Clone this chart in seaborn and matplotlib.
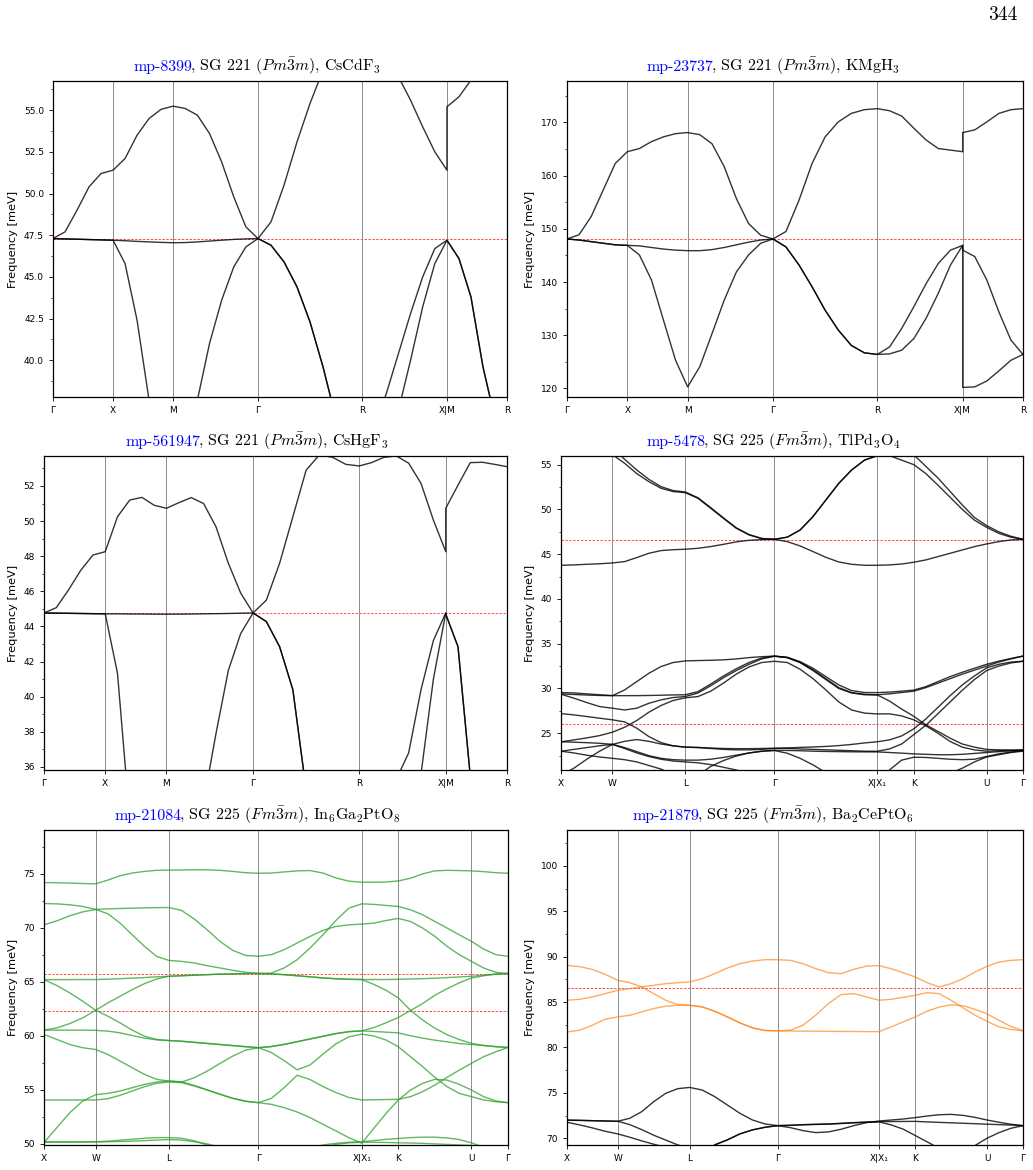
import numpy as np
import pandas as pd
import matplotlib
matplotlib.use("Agg")
import matplotlib.pyplot as plt
from matplotlib.ticker import MultipleLocator, AutoMinorLocator
import seaborn as sns

# k-paths: cumulative distance of the high-symmetry points
sc_ticks = [0.0, 0.5, 1.0, 1.707, 2.573, 3.280, 3.780]
sc_labels = ["Γ", "X", "M", "Γ", "R", "X|M", "R"]
sc_steps = [5, 5, 7, 8, 7, 5]
sc_jumps = [5]          # X|M: path is broken, the M value starts again at the same k

fcc_ticks = [0.0, 0.5, 1.207, 2.073, 3.073, 3.427, 4.134, 4.488]
fcc_labels = ["X", "W", "L", "Γ", "X|X₁", "K", "U", "Γ"]
fcc_steps = [4, 6, 7, 8, 3, 6, 3]
fcc_jumps = []

# ---- mp-8399 CsCdF3 (meV) ----
cscdf3_bands = [
    [47.3, 47.7, 49.0, 50.4, 51.2, 51.4, 52.1, 53.5, 54.5, 55.05, 55.24,
     55.1, 54.7, 53.6, 51.9, 49.8, 48.0, 47.3, 48.3, 50.5, 53.1, 55.4, 57.4, 58.2, 58.6, 58.7,
     58.5, 57.9, 57.0, 55.6, 54.0, 52.5, 51.4, 55.2, 55.8, 56.8, 57.4, 57.7, 57.8],
    [47.3, 47.28, 47.26, 47.24, 47.22, 47.2, 47.17, 47.13, 47.1, 47.07, 47.05,
     47.06, 47.1, 47.15, 47.2, 47.25, 47.28, 47.3, 46.9, 45.9, 44.4, 42.3, 39.6, 36.5, 35.0, 34.5,
     34.8, 35.5, 37.0, 40.0, 43.2, 45.8, 47.2, 47.2, 46.1, 43.8, 39.6, 36.5, 35.0],
    [47.3, 47.28, 47.26, 47.24, 47.22, 47.2, 45.8, 42.4, 37.6, 35.0, 34.0,
     35.0, 37.6, 41.0, 43.6, 45.6, 46.8, 47.3, 46.9, 45.9, 44.4, 42.3, 39.6, 36.5, 35.0, 34.5,
     36.0, 38.0, 40.4, 42.8, 45.0, 46.7, 47.2, 47.2, 46.1, 43.8, 39.6, 36.5, 35.0],
]
cscdf3_ylim = [37.8, 56.75]
cscdf3_ref = [47.3]

# ---- mp-23737 KMgH3 ----
kmgh3_bands = [
    [148.1, 148.9, 152.3, 157.3, 162.3, 164.5, 165.1, 166.4, 167.3, 167.9, 168.1,
     167.7, 166.0, 161.7, 155.7, 151.0, 148.8, 148.1, 149.5, 155.4, 162.3, 167.3, 170.1, 171.7, 172.4, 172.6,
     172.2, 171.2, 168.9, 166.7, 165.1, 164.8, 164.5, 168.1, 168.6, 170.1, 171.7, 172.4, 172.6],
    [148.1, 147.9, 147.6, 147.3, 147.0, 146.9, 146.8, 146.5, 146.2, 146.0, 145.9,
     145.9, 146.1, 146.5, 147.0, 147.5, 147.9, 148.1, 146.6, 143.2, 139.1, 134.7, 131.0, 128.1, 126.7, 126.4,
     127.8, 131.3, 135.4, 139.7, 143.5, 146.0, 146.9, 146.0, 144.8, 140.4, 134.4, 129.1, 126.4],
    [148.1, 147.9, 147.6, 147.3, 147.0, 146.9, 145.1, 140.4, 132.8, 125.3, 120.3,
     124.1, 130.3, 136.6, 141.9, 145.1, 147.3, 148.1, 146.6, 143.2, 139.1, 134.7, 131.0, 128.1, 126.7, 126.4,
     126.5, 127.2, 129.4, 133.2, 137.9, 143.2, 146.9, 120.2, 120.3, 121.4, 123.3, 125.3, 126.4],
]
kmgh3_ylim = [118.4, 177.8]
kmgh3_ref = [148.1]

# ---- mp-561947 CsHgF3 ----
cshgf3_bands = [
    [44.77, 45.07, 46.08, 47.2, 48.07, 48.26, 50.25, 51.2, 51.35, 50.9, 50.73,
     51.05, 51.34, 51.0, 49.68, 47.6, 45.9, 44.77, 45.5, 47.6, 50.25, 52.9, 53.77, 53.63, 53.23, 53.14,
     53.33, 53.63, 53.71, 53.3, 52.15, 50.06, 48.26, 50.73, 52.05, 53.33, 53.35, 53.23, 53.1],
    [44.77, 44.76, 44.75, 44.74, 44.73, 44.72, 44.72, 44.71, 44.71, 44.7, 44.7,
     44.7, 44.71, 44.72, 44.73, 44.74, 44.76, 44.77, 44.28, 42.85, 40.4, 34.7, 33.0, 31.0, 30.0, 30.0,
     30.5, 32.0, 33.5, 35.0, 35.6, 41.0, 44.77, 44.7, 42.85, 35.5, 33.0, 31.0, 30.0],
    [44.77, 44.76, 44.75, 44.74, 44.73, 44.72, 41.33, 33.0, 31.0, 30.0, 29.0,
     29.5, 31.0, 34.0, 37.9, 41.5, 43.6, 44.77, 44.28, 42.85, 40.4, 34.7, 33.0, 31.0, 30.0, 30.0,
     30.0, 32.0, 35.3, 36.8, 40.4, 43.2, 44.77, 44.7, 42.85, 35.5, 33.0, 31.0, 30.0],
]
cshgf3_ylim = [35.83, 53.71]
cshgf3_ref = [44.77]

# ---- mp-5478 TlPd3O4 ----
tlpd3o4_bands = [
    [60.0, 59.0, 58.0, 57.0, 56.1, 55.15, 54.0, 53.1, 52.36, 51.99, 51.87,
     51.24, 50.12, 49.0, 47.9, 47.15, 46.74, 46.66, 46.9, 47.7, 49.2, 51.05, 52.9, 54.4, 55.5, 56.0,
     56.6, 56.8, 56.1, 54.8, 53.5, 52.0, 50.5, 49.1, 48.2, 47.5, 47.0, 46.66],
    [61.0, 60.0, 59.0, 58.0, 56.8, 55.6, 54.4, 53.36, 52.54, 52.1, 51.95,
     51.3, 50.2, 49.05, 47.95, 47.2, 46.76, 46.66, 46.9, 47.7, 49.2, 51.05, 52.9, 54.4, 55.5, 56.0,
     56.0, 55.5, 55.0, 54.0, 52.7, 51.35, 50.0, 48.8, 48.0, 47.33, 46.9, 46.66],
    [43.76, 43.8, 43.87, 43.93, 44.02, 44.17, 44.62, 45.1, 45.4, 45.5, 45.55,
     45.66, 45.85, 46.1, 46.37, 46.55, 46.63, 46.66, 46.4, 45.92, 45.29, 44.65, 44.13, 43.87, 43.76, 43.76,
     43.8, 43.9, 44.1, 44.36, 44.73, 45.1, 45.47, 45.84, 46.14, 46.4, 46.59, 46.66],
    [29.55, 29.5, 29.4, 29.3, 29.2, 29.84, 30.77, 31.7, 32.45, 32.9, 33.08,
     33.12, 33.15, 33.2, 33.3, 33.45, 33.55, 33.62, 33.49, 33.0, 32.26, 31.33, 30.4, 29.77, 29.55, 29.54,
     29.6, 29.7, 29.82, 30.21, 30.77, 31.33, 31.81, 32.26, 32.7, 33.05, 33.35, 33.62],
    [29.4, 29.33, 29.27, 29.22, 29.2, 29.2, 29.2, 29.22, 29.25, 29.28, 29.3,
     29.65, 30.5, 31.4, 32.2, 32.9, 33.4, 33.62, 33.45, 32.9, 32.1, 31.1, 30.1, 29.55, 29.35, 29.3,
     29.4, 29.55, 29.7, 30.1, 30.6, 31.1, 31.6, 32.05, 32.5, 32.95, 33.3, 33.62],
    [29.36, 28.92, 28.43, 27.98, 27.8, 27.6, 27.8, 28.35, 28.73, 28.99, 29.1,
     29.5, 30.3, 31.2, 32.0, 32.7, 33.3, 33.6, 33.45, 32.9, 32.0, 31.0, 30.0, 29.5, 29.3, 29.28,
     28.6, 27.7, 26.9, 25.94, 25.2, 24.45, 23.8, 23.45, 23.2, 23.15, 23.12, 23.1],
    [24.04, 24.26, 24.48, 24.74, 25.12, 25.67, 26.42, 27.35, 28.1, 28.66, 28.96,
     29.1, 29.7, 30.6, 31.6, 32.4, 32.9, 33.04, 32.9, 32.15, 31.1, 29.84, 28.5, 27.6, 27.25, 27.16,
     27.17, 26.94, 26.5, 25.83, 25.0, 24.08, 23.45, 23.14, 23.0, 23.05, 23.1, 23.15],
    [27.2, 27.05, 26.87, 26.68, 26.5, 26.27, 25.57, 24.63, 23.96, 23.59, 23.45,
     23.4, 23.3, 23.2, 23.15, 23.15, 23.2, 23.3, 23.37, 23.42, 23.47, 23.53, 23.62, 23.75, 23.92, 24.05,
     24.26, 24.7, 25.49, 26.6, 27.9, 29.2, 30.4, 31.4, 32.3, 32.7, 32.95, 33.04],
    [22.99, 23.2, 23.4, 23.6, 23.76, 24.1, 24.3, 24.1, 23.8, 23.6, 23.45,
     23.42, 23.35, 23.3, 23.28, 23.28, 23.3, 23.33, 23.3, 23.25, 23.2, 23.15, 23.1, 23.05, 23.0, 22.99,
     23.25, 23.8, 24.85, 25.9, 27.2, 28.5, 29.8, 31.0, 32.0, 32.5, 32.85, 33.04],
    [24.05, 24.0, 23.95, 23.88, 23.76, 23.4, 22.95, 22.5, 22.2, 22.05, 22.0,
     22.0, 22.1, 22.3, 22.55, 22.8, 22.98, 23.07, 22.77, 22.2, 21.47, 20.6, 20.0, 19.5, 19.0, 18.8,
     20.9, 22.0, 22.32, 22.3, 22.2, 22.1, 22.05, 22.1, 22.4, 22.7, 22.9, 23.07],
    [23.0, 22.8, 22.55, 22.35, 22.2, 22.05, 21.8, 21.4, 21.0, 20.4, 20.0,
     20.3, 21.3, 21.95, 22.45, 22.8, 23.0, 23.1, 23.08, 23.05, 23.0, 22.97, 22.95, 22.93, 22.92, 22.92,
     22.85, 22.78, 22.7, 22.65, 22.6, 22.6, 22.65, 22.75, 22.85, 22.95, 23.03, 23.1],
    [20.3, 21.1, 22.1, 23.0, 23.76, 23.3, 22.8, 22.4, 22.1, 21.9, 21.8,
     21.7, 21.5, 21.2, 20.9, 20.5, 20.2, 20.0, 20.0, 19.8, 19.6, 19.4, 19.2, 19.0, 18.9, 18.8,
     19.0, 19.2, 19.4, 19.6, 19.9, 20.5, 21.1, 21.8, 22.35, 22.6, 22.85, 23.0],
]
tlpd3o4_ylim = [20.9, 55.97]
tlpd3o4_ref = [46.6, 26.03]

# ---- mp-21084 In6Ga2PtO8 ----
in6ga2pto8_bands = [
    [74.17, 74.15, 74.12, 74.08, 74.05, 74.4, 74.8, 75.05, 75.2, 75.3, 75.32,
     75.33, 75.35, 75.35, 75.3, 75.2, 75.08, 75.03, 75.05, 75.15, 75.25, 75.28, 75.05, 74.6, 74.3, 74.2,
     74.2, 74.22, 74.32, 74.57, 74.97, 75.25, 75.3, 75.28, 75.25, 75.18, 75.08, 75.03],
    [72.23, 72.2, 72.11, 71.96, 71.68, 71.28, 70.42, 69.34, 68.27, 67.34, 66.97,
     66.88, 66.73, 66.48, 66.27, 66.05, 65.87, 65.74, 65.8, 66.27, 67.03, 68.11, 69.34, 70.66, 71.8, 72.2,
     72.15, 72.05, 71.96, 71.65, 71.19, 70.57, 69.96, 69.34, 68.73, 68.02, 67.5, 67.35],
    [70.26, 70.63, 71.1, 71.46, 71.68, 71.74, 71.77, 71.8, 71.83, 71.85, 71.86,
     71.59, 70.79, 69.8, 68.73, 67.9, 67.43, 67.35, 67.5, 67.96, 68.57, 69.19, 69.74, 70.11, 70.26, 70.33,
     70.42, 70.66, 70.85, 70.57, 69.96, 69.19, 68.27, 67.5, 66.88, 66.27, 65.87, 65.74],
    [65.19, 65.19, 65.19, 65.2, 65.2, 65.23, 65.28, 65.33, 65.38, 65.45, 65.5,
     65.55, 65.6, 65.65, 65.7, 65.72, 65.75, 65.77, 65.72, 65.65, 65.55, 65.45, 65.35, 65.27, 65.22, 65.2,
     65.2, 65.2, 65.22, 65.25, 65.28, 65.32, 65.38, 65.44, 65.5, 65.6, 65.7, 65.77],
    [65.19, 64.64, 63.96, 63.19, 62.36, 61.81, 61.19, 60.52, 59.96, 59.66, 59.56,
     59.5, 59.4, 59.3, 59.2, 59.1, 59.0, 58.9, 59.0, 59.2, 59.45, 59.7, 59.95, 60.2, 60.38, 60.45,
     60.76, 61.2, 61.69, 62.33, 62.98, 63.75, 64.35, 64.9, 65.34, 65.55, 65.7, 65.77],
    [60.52, 60.73, 61.13, 61.65, 62.36, 63.04, 63.65, 64.27, 64.82, 65.25, 65.5,
     65.55, 65.6, 65.65, 65.7, 65.72, 65.75, 65.77, 65.72, 65.65, 65.55, 65.45, 65.35, 65.27, 65.22, 65.2,
     64.75, 64.2, 63.5, 62.35, 61.45, 60.7, 60.1, 59.65, 59.3, 59.1, 58.98, 58.92],
    [60.52, 60.52, 60.52, 60.52, 60.5, 60.43, 60.27, 60.02, 59.78, 59.62, 59.56,
     59.48, 59.38, 59.28, 59.18, 59.08, 58.98, 58.9, 58.45, 57.7, 56.85, 57.3, 58.3, 59.25, 59.9, 60.15,
     59.98, 59.6, 58.98, 58.06, 57.14, 56.15, 55.29, 54.67, 54.37, 54.06, 53.9, 53.81],
    [60.12, 59.66, 59.19, 58.89, 58.73, 58.27, 57.66, 57.04, 56.43, 55.97, 55.81,
     55.72, 56.12, 56.73, 57.44, 58.12, 58.67, 58.89, 59.0, 59.2, 59.45, 59.7, 59.95, 60.2, 60.38, 60.45,
     60.4, 60.33, 60.27, 60.0, 59.78, 59.59, 59.44, 59.28, 59.19, 59.1, 59.0, 58.92],
    [54.06, 54.06, 54.06, 54.06, 54.06, 54.18, 54.49, 54.89, 55.29, 55.6, 55.72,
     55.66, 55.35, 54.98, 54.58, 54.21, 53.94, 53.81, 54.2, 55.2, 56.35, 55.95, 55.3, 54.75, 54.3, 54.06,
     54.08, 54.1, 54.12, 54.37, 54.83, 55.44, 56.15, 56.82, 57.45, 58.06, 58.52, 58.92],
    [50.12, 51.51, 52.89, 53.97, 54.55, 54.67, 54.89, 55.2, 55.5, 55.72, 55.81,
     55.75, 55.4, 55.0, 54.6, 54.22, 53.95, 53.81, 53.66, 53.35, 52.95, 52.43, 51.81, 51.2, 50.58, 50.06,
     51.45, 52.83, 54.06, 54.98, 55.6, 55.97, 55.9, 55.5, 54.98, 54.37, 53.97, 53.81],
    [50.18, 50.18, 50.18, 50.19, 50.2, 50.25, 50.34, 50.43, 50.52, 50.58, 50.58,
     50.52, 50.28, 49.9, 49.5, 49.2, 49.0, 48.9, 48.95, 49.1, 49.3, 49.6, 49.9, 50.05, 50.15, 50.2,
     50.3, 50.42, 50.5, 50.58, 50.62, 50.62, 50.55, 50.4, 50.1, 49.7, 49.4, 49.2],
    [50.16, 50.16, 50.16, 50.17, 50.18, 50.2, 50.22, 50.25, 50.3, 50.35, 50.4,
     50.35, 50.2, 50.0, 49.7, 49.4, 49.1, 48.9, 48.9, 49.0, 49.2, 49.4, 49.7, 49.95, 50.1, 50.15,
     50.15, 50.13, 50.1, 50.08, 50.05, 50.0, 49.95, 49.9, 49.85, 49.8, 49.75, 49.7],
]
in6ga2pto8_ylim = [49.9, 79.03]
in6ga2pto8_ref = [65.75, 62.33]

# ---- mp-21879 Ba2CePtO6 (first three bands highlighted) ----
ba2ceptO6_bands = [
    [89.05, 88.9, 88.6, 88.06, 87.4, 87.14, 86.67, 85.93, 85.2, 84.73, 84.65,
     84.47, 83.99, 83.37, 82.71, 82.16, 81.87, 81.83, 81.82, 81.8, 81.8, 81.78, 81.77, 81.76, 81.75, 81.75,
     82.27, 82.82, 83.37, 84.0, 84.45, 84.7, 84.6, 84.2, 83.7, 83.0, 82.3, 81.85],
    [85.2, 85.31, 85.57, 85.93, 86.3, 86.48, 86.67, 86.85, 87.03, 87.14, 87.22,
     87.58, 88.13, 88.75, 89.23, 89.52, 89.67, 89.67, 89.6, 89.23, 88.68, 88.24, 88.13, 88.61, 88.97, 89.01,
     88.68, 88.24, 87.77, 87.14, 86.67, 87.03, 87.58, 88.31, 88.94, 89.41, 89.6, 89.67],
    [81.72, 81.9, 82.45, 83.11, 83.37, 83.55, 83.92, 84.29, 84.54, 84.65, 84.65,
     84.47, 83.99, 83.37, 82.71, 82.16, 81.87, 81.83, 81.9, 82.45, 83.55, 84.84, 85.82, 85.93, 85.57, 85.2,
     85.31, 85.53, 85.75, 86.04, 85.93, 85.2, 84.36, 83.55, 82.89, 82.27, 81.98, 81.83],
    [72.01, 71.98, 71.94, 71.9, 71.87, 72.2, 72.93, 74.03, 74.95, 75.46, 75.6,
     75.31, 74.58, 73.66, 72.75, 72.01, 71.57, 71.39, 71.17, 70.84, 70.62, 70.7, 70.99, 71.39, 71.72, 71.9,
     72.01, 72.12, 72.27, 72.45, 72.59, 72.63, 72.52, 72.3, 72.01, 71.76, 71.54, 71.39],
    [71.98, 71.96, 71.93, 71.9, 71.87, 71.5, 70.95, 70.33, 69.8, 69.27, 68.9,
     68.3, 69.27, 69.82, 70.48, 70.92, 71.21, 71.39, 71.43, 71.5, 71.54, 71.57, 71.65, 71.72, 71.79, 71.83,
     71.84, 71.85, 71.86, 71.8, 71.75, 71.7, 71.65, 71.6, 71.55, 71.5, 71.45, 71.39],
    [71.76, 71.47, 71.14, 70.77, 70.48, 70.11, 69.71, 69.34, 69.0, 68.7, 68.4,
     68.3, 69.27, 69.82, 70.48, 70.92, 71.21, 71.39, 71.42, 71.48, 71.52, 71.56, 71.62, 71.7, 71.76, 71.8,
     71.47, 71.0, 70.3, 69.6, 68.9, 68.5, 68.5, 69.2, 70.0, 70.62, 71.1, 71.39],
]
ba2ceptO6_ylim = [69.26, 103.96]
ba2ceptO6_ref = [86.56]
ba2ceptO6_colors = ["#ff7f0e", "#ff7f0e", "#ff7f0e", "k", "k", "k"]

mp_ids = ["mp-8399", "mp-23737", "mp-561947", "mp-5478", "mp-21084", "mp-21879"]
subtitles = [
    r", SG 221 ($Pm\bar{3}m$), CsCdF$_3$",
    r", SG 221 ($Pm\bar{3}m$), KMgH$_3$",
    r", SG 221 ($Pm\bar{3}m$), CsHgF$_3$",
    r", SG 225 ($Fm\bar{3}m$), TlPd$_3$O$_4$",
    r", SG 225 ($Fm\bar{3}m$), In$_6$Ga$_2$PtO$_8$",
    r", SG 225 ($Fm\bar{3}m$), Ba$_2$CePtO$_6$",
]


def build_path(ticks, steps, jumps):
    ks = [ticks[0]]
    for i, n in enumerate(steps):
        seg = np.linspace(ticks[i], ticks[i + 1], n + 1)
        ks.extend(seg if i in jumps else seg[1:])
    return np.array(ks)


def band_frame(k, bands):
    parts = [pd.DataFrame({"k": k, "E": b, "band": i}) for i, b in enumerate(bands)]
    return pd.concat(parts, ignore_index=True)


sc_k = build_path(sc_ticks, sc_steps, sc_jumps)
fcc_k = build_path(fcc_ticks, fcc_steps, fcc_jumps)

panels = [
    (sc_k, sc_ticks, sc_labels, cscdf3_bands, cscdf3_ylim, 2.5, cscdf3_ref, ["k"] * 3),
    (sc_k, sc_ticks, sc_labels, kmgh3_bands, kmgh3_ylim, 10, kmgh3_ref, ["k"] * 3),
    (sc_k, sc_ticks, sc_labels, cshgf3_bands, cshgf3_ylim, 2, cshgf3_ref, ["k"] * 3),
    (fcc_k, fcc_ticks, fcc_labels, tlpd3o4_bands, tlpd3o4_ylim, 5, tlpd3o4_ref, ["k"] * 12),
    (fcc_k, fcc_ticks, fcc_labels, in6ga2pto8_bands, in6ga2pto8_ylim, 5, in6ga2pto8_ref, ["#2ca02c"] * 12),
    (fcc_k, fcc_ticks, fcc_labels, ba2ceptO6_bands, ba2ceptO6_ylim, 5, ba2ceptO6_ref, ba2ceptO6_colors),
]

# axes boxes in figure fraction [left, bottom, width, height]
boxes = [
    [0.0513, 0.6607, 0.4395, 0.2701], [0.5489, 0.6607, 0.4414, 0.2701],
    [0.0426, 0.3419, 0.4482, 0.2684], [0.5431, 0.3419, 0.4472, 0.2684],
    [0.0426, 0.0214, 0.4492, 0.2692], [0.5489, 0.0214, 0.4414, 0.2692],
]
title_y = [0.9393, 0.9393, 0.6184, 0.6184, 0.2991, 0.2991]

fig = plt.figure(figsize=(10.33, 11.70), dpi=100)
titles = []
for i, (k, ticks, labels, bands, ylim, step, ref, cols) in enumerate(panels):
    ax = fig.add_axes(boxes[i])
    df = band_frame(k, bands)
    pal = {j: c for j, c in enumerate(cols)}
    alpha = 0.65 if i == 5 else (0.75 if i == 4 else 0.8)
    sns.lineplot(data=df, x="k", y="E", hue="band", units="band", estimator=None,
                 sort=False, palette=pal, legend=False, lw=1.0, alpha=alpha, ax=ax)
    if i == 5:
        # the black bands of the last panel
        for line in ax.get_lines()[3:]:
            line.set_alpha(0.8)
    for e in ref:
        ax.axhline(e, color="red", lw=0.7, ls=(0, (2.5, 1.5)), alpha=0.7, zorder=1)
    ax.set_xlim(ticks[0], ticks[-1])
    ax.set_ylim(*ylim)
    ax.set_xticks(ticks)
    ax.set_xticklabels(labels)
    ax.xaxis.grid(True, color="0.55", lw=0.7)
    ax.yaxis.set_major_locator(MultipleLocator(step))
    ax.yaxis.set_minor_locator(AutoMinorLocator(2))
    ax.tick_params(labelsize=6.5, length=3, width=0.6)
    ax.tick_params(which="minor", length=1.8, width=0.5)
    for s in ax.spines.values():
        s.set_linewidth(0.9)
    ax.set_xlabel("")
    ax.set_ylabel("Frequency [meV]", fontsize=8.2)
    kw = dict(fontfamily="cmr10", math_fontfamily="cm", fontsize=11.5,
              ha="left", va="baseline")
    xc = 0.25 if i % 2 == 0 else 0.75
    t1 = fig.text(xc, title_y[i], mp_ids[i], color="blue", **kw)
    t2 = fig.text(xc, title_y[i], subtitles[i], color="black", **kw)
    titles.append((xc, t1, t2))

fig.text(0.971, 0.987, "344", fontfamily="cmr10", fontsize=14, ha="center", va="center")

# centre the two-coloured titles on their column
fig.canvas.draw()
r = fig.canvas.get_renderer()
W = fig.bbox.width
for xc, t1, t2 in titles:
    w1 = t1.get_window_extent(r).width
    w2 = t2.get_window_extent(r).width
    x0 = xc * W - (w1 + w2) / 2
    t1.set_x(x0 / W)
    t2.set_x((x0 + w1 - 2.5) / W)

fig.savefig("out.png", dpi=100)
